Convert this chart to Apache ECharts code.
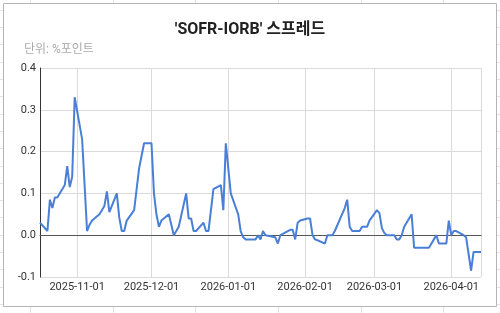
<!DOCTYPE html>
<html>
<head>
<meta charset="utf-8">
<script src="https://cdn.jsdelivr.net/npm/echarts@6/dist/echarts.min.js"></script>
<style>
html,body{margin:0;padding:0;background:#fff;}
#c{width:500px;height:313px;}
</style>
</head>
<body>
<div id="c"></div>
<script>
const titleText = "'SOFR-IORB' 스프레드";
const unitText = "단위: %포인트";
const yTicks = [-0.1, 0.0, 0.1, 0.2, 0.3, 0.4];

const dates = [
 "2025-10-17","2025-10-20","2025-10-21","2025-10-22","2025-10-23","2025-10-24","2025-10-27","2025-10-28","2025-10-29","2025-10-30","2025-10-31",
 "2025-11-03","2025-11-04","2025-11-05","2025-11-06","2025-11-07","2025-11-10","2025-11-12","2025-11-13","2025-11-14","2025-11-17","2025-11-18","2025-11-19","2025-11-20","2025-11-21","2025-11-24","2025-11-25","2025-11-26","2025-11-28",
 "2025-12-01","2025-12-02","2025-12-03","2025-12-04","2025-12-05","2025-12-08","2025-12-09","2025-12-10","2025-12-11","2025-12-12","2025-12-15","2025-12-16","2025-12-17","2025-12-18","2025-12-19","2025-12-22","2025-12-23","2025-12-24","2025-12-26","2025-12-29","2025-12-30","2025-12-31",
 "2026-01-02","2026-01-05","2026-01-06","2026-01-07","2026-01-08","2026-01-09","2026-01-12","2026-01-13","2026-01-14","2026-01-15","2026-01-16","2026-01-20","2026-01-21","2026-01-22","2026-01-23","2026-01-26","2026-01-27","2026-01-28","2026-01-29","2026-01-30",
 "2026-02-02","2026-02-03","2026-02-04","2026-02-05","2026-02-06","2026-02-09","2026-02-10","2026-02-11","2026-02-12","2026-02-13","2026-02-17","2026-02-18","2026-02-19","2026-02-20","2026-02-23","2026-02-24","2026-02-25","2026-02-26","2026-02-27",
 "2026-03-02","2026-03-03","2026-03-04","2026-03-05","2026-03-06","2026-03-09","2026-03-10","2026-03-11","2026-03-12","2026-03-13","2026-03-16","2026-03-17","2026-03-18","2026-03-19","2026-03-20","2026-03-23","2026-03-24","2026-03-25","2026-03-26","2026-03-27","2026-03-30","2026-03-31",
 "2026-04-01","2026-04-02","2026-04-03","2026-04-06","2026-04-07","2026-04-08","2026-04-09","2026-04-10","2026-04-13"
];
const spread = [
 0.03,0.01,0.085,0.065,0.09,0.09,0.12,0.165,0.115,0.14,0.33,
 0.23,0.12,0.01,0.025,0.035,0.05,0.07,0.105,0.055,0.10,0.042,0.01,0.01,0.035,0.06,0.11,0.16,0.22,
 0.22,0.10,0.05,0.02,0.035,0.05,0.025,0.0,0.01,0.02,0.10,0.04,0.04,0.01,0.01,0.03,0.01,0.01,0.11,0.12,0.06,0.22,
 0.10,0.05,0.01,-0.005,-0.01,-0.01,-0.01,0.0,-0.01,0.01,0.0,-0.005,-0.02,0.0,0.003,0.013,0.013,-0.01,0.03,0.035,
 0.04,0.04,0.0,-0.01,-0.012,-0.02,0.0,0.0,0.0,0.01,0.065,0.085,0.02,0.01,0.01,0.02,0.02,0.02,0.035,
 0.06,0.053,0.017,0.005,0.0,0.0,-0.01,-0.01,0.0,0.02,0.05,-0.03,-0.03,-0.03,-0.03,-0.03,-0.02,-0.01,0.0,-0.02,-0.02,0.035,
 0.0,0.01,0.01,0.0,-0.005,-0.045,-0.085,-0.04,-0.04
];

const seriesData = dates.map((d, i) => [d, spread[i]]);

// decorative spreadsheet cell lines outside the chart box + chart border
const deco = [];
const colX = [30, 113, 195, 278, 361, 443];
colX.forEach(x => {
  deco.push({type:'line', shape:{x1:x+0.5,y1:0,x2:x+0.5,y2:3}, style:{stroke:'#e3e3e3',lineWidth:1}, silent:true});
  deco.push({type:'line', shape:{x1:x+0.5,y1:307,x2:x+0.5,y2:313}, style:{stroke:'#e3e3e3',lineWidth:1}, silent:true});
});
for (let y = 9.8; y < 313; y += 17.3) {
  const yy = Math.round(y) + 0.5;
  deco.push({type:'line', shape:{x1:0,y1:yy,x2:3,y2:yy}, style:{stroke:'#e3e3e3',lineWidth:1}, silent:true});
  deco.push({type:'line', shape:{x1:497,y1:yy,x2:500,y2:yy}, style:{stroke:'#e3e3e3',lineWidth:1}, silent:true});
}
deco.push({type:'rect', shape:{x:3.5,y:3.5,width:493,height:303}, style:{fill:null,stroke:'#b5b5b5',lineWidth:1}, silent:true, z:-1});

const chart = echarts.init(document.getElementById('c'), null, {renderer:'canvas'});
chart.setOption({
  backgroundColor: '#fff',
  animation: false,
  graphic: deco,
  title: [
    {text: titleText, left: 'center', top: 17,
     textStyle:{fontFamily:'Roboto, "Noto Sans CJK KR", sans-serif', fontSize:16, fontWeight:'bold', color:'#222'}},
    {text: unitText, left: 19, top: 39,
     textStyle:{fontFamily:'Roboto, "Noto Sans CJK KR", sans-serif', fontSize:12, fontWeight:'normal', color:'#aaaaaa'}}
  ],
  grid: {left: 40, right: 19, top: 68, bottom: 36, containLabel: false},
  xAxis: {
    type: 'time',
    min: dates[0],
    max: dates[dates.length - 1],
    axisLine: {show: true, lineStyle: {color: '#333', width: 1}},
    axisTick: {show: false},
    splitLine: {show: true, lineStyle: {color: '#dadada', width: 1}},
    axisLabel: {
      color: '#333', fontSize: 11, fontFamily: 'Roboto, sans-serif', margin: 5,
      showMinLabel: false, showMaxLabel: false,
      formatter: '{yyyy}-{MM}-{dd}'
    },
    minInterval: 28 * 86400000,
    maxInterval: 31 * 86400000
  },
  yAxis: {
    type: 'value',
    min: yTicks[0],
    max: yTicks[yTicks.length - 1],
    interval: 0.1,
    axisLine: {show: true, lineStyle: {color: '#333', width: 1}},
    axisTick: {show: false},
    splitLine: {show: true, lineStyle: {color: '#dadada', width: 1}},
    axisLabel: {
      color: '#333', fontSize: 11, fontFamily: 'Roboto, sans-serif', margin: 4,
      formatter: v => v.toFixed(1)
    }
  },
  series: [{
    type: 'line',
    data: seriesData,
    showSymbol: false,
    symbol: 'none',
    lineStyle: {color: '#4a7fd6', width: 2},
    itemStyle: {color: '#4a7fd6'},
    markLine: {
      silent: true,
      symbol: 'none',
      label: {show: false},
      lineStyle: {color: '#555', width: 1, type: 'solid'},
      data: [{yAxis: 0}],
      z: 1
    },
    z: 3
  }]
});
</script>
</body>
</html>
